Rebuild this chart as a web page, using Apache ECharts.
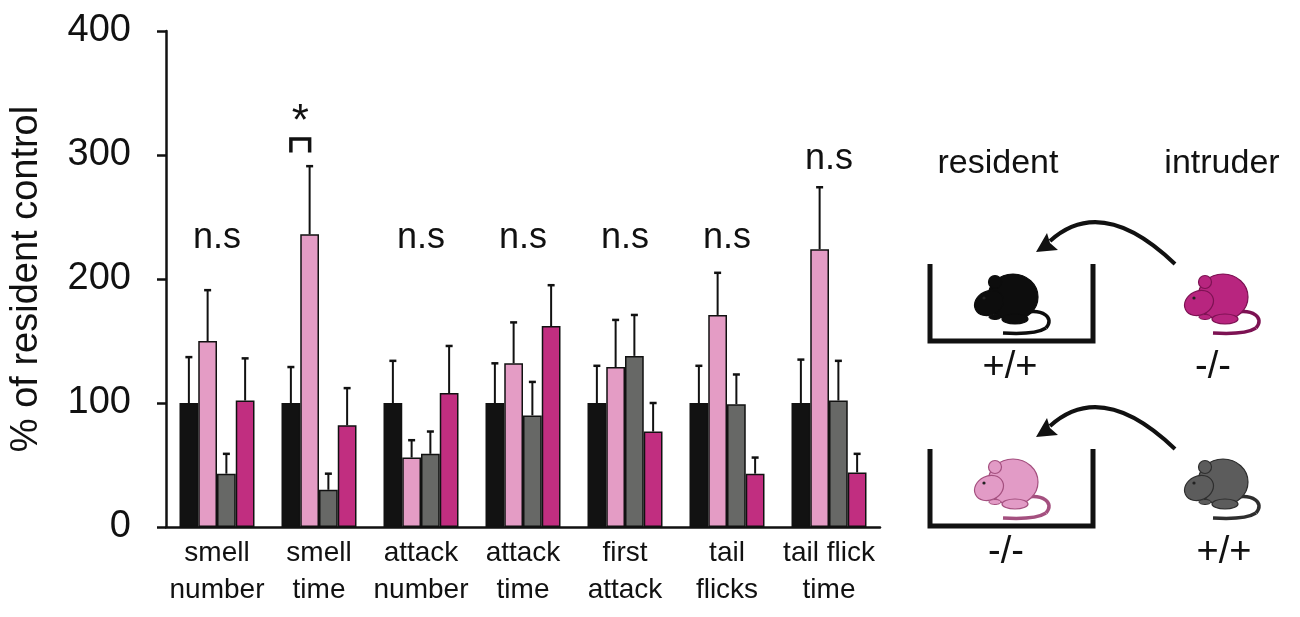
<!DOCTYPE html>
<html>
<head>
<meta charset="utf-8">
<script src="https://cdn.jsdelivr.net/npm/echarts@6/dist/echarts.min.js"></script>
<style>
  html, body { margin: 0; padding: 0; background: #fff; }
  #chart { width: 1300px; height: 617px; }
</style>
</head>
<body>
<div id="chart"></div>
<script>
const categories = ['smell\nnumber', 'smell\ntime', 'attack\nnumber', 'attack\ntime', 'first\nattack', 'tail\nflicks', 'tail flick\ntime'];

// mean % of resident control, and upper SEM
const wtVsWt = [100, 100, 100, 100, 100, 100, 100];
const wtVsWtErr = [37, 29, 34, 32, 30, 30, 35];
const koVsWt = [150, 236, 56, 132, 129, 171, 224];
const koVsWtErr = [41, 55, 14, 33, 38, 34, 50];
const wtIntruder = [43, 30, 59, 90, 138, 99, 102];
const wtIntruderErr = [16, 13, 18, 27, 33, 24, 32];
const koIntruder = [102, 82, 108, 162, 77, 43, 44];
const koIntruderErr = [34, 30, 38, 33, 23, 13, 15];

// significance annotations
const nsGroups = [0, 2, 3, 4, 5, 6];
const nsLevels = [233, 233, 233, 233, 233, 297];
const starGroup = 1;
const starLevels = [302, 313, 326]; // bracket leg, bracket top, star

const FONT = 'Liberation Sans, Arial, sans-serif';
const BAR_W = 18.75;
const colors = ['#121212', '#e49cc5', '#676866', '#c12e80'];

const chart = echarts.init(document.getElementById('chart'));

function errorSeries(means, errs, idx) {
  return {
    type: 'custom',
    z: 1,
    silent: true,
    data: means.map((m, i) => [i, m, m + errs[i]]),
    renderItem: function (params, api) {
      const lo = api.coord([api.value(0), api.value(1)]);
      const hi = api.coord([api.value(0), api.value(2)]);
      const x = lo[0] + (idx - 1.5) * BAR_W;
      return {
        type: 'group',
        children: [
          { type: 'line', shape: { x1: x, y1: lo[1], x2: x, y2: hi[1] }, style: { stroke: '#111', lineWidth: 2 } },
          { type: 'line', shape: { x1: x - 3.5, y1: hi[1], x2: x + 3.5, y2: hi[1] }, style: { stroke: '#111', lineWidth: 2.5 } }
        ]
      };
    }
  };
}

function barSeries(name, values, color) {
  return {
    name: name,
    type: 'bar',
    z: 2,
    barWidth: BAR_W,
    barGap: '0%',
    data: values,
    itemStyle: { color: color, borderColor: '#111', borderWidth: 1.5 }
  };
}

function mouse(x, y, fill, stroke) {
  return {
    type: 'group', x: x, y: y, children: [
      { type: 'bezierCurve', shape: { x1: 14, y1: 9, cpx1: 34, cpy1: 4, cpx2: 46, cpy2: 14, x2: 37, y2: 24 }, style: { fill: null, stroke: stroke, lineWidth: 3.5 } },
      { type: 'bezierCurve', shape: { x1: 37, y1: 24, cpx1: 26, cpy1: 31, x2: -6, y2: 29 }, style: { fill: null, stroke: stroke, lineWidth: 3.5 } },
      { type: 'ellipse', shape: { cx: 4, cy: -7, rx: 25, ry: 23 }, style: { fill: fill, stroke: stroke, lineWidth: 1.2 } },
      { type: 'ellipse', shape: { cx: 6, cy: 15, rx: 13, ry: 5 }, style: { fill: fill, stroke: stroke, lineWidth: 1.2 } },
      { type: 'ellipse', shape: { cx: 0, cy: 0, rx: 15, ry: 12 }, x: -20, y: -1, rotation: 0.45, style: { fill: fill, stroke: stroke, lineWidth: 1.2 } },
      { type: 'circle', shape: { cx: -14, cy: -22, r: 6.5 }, style: { fill: fill, stroke: stroke, lineWidth: 1.2 } },
      { type: 'ellipse', shape: { cx: -14, cy: 13, rx: 6, ry: 2.5 }, style: { fill: fill, stroke: stroke, lineWidth: 1 } },
      { type: 'circle', shape: { cx: -25, cy: -6, r: 1.6 }, style: { fill: '#222' } }
    ]
  };
}

function arrow(dy) {
  return {
    type: 'group', y: dy, children: [
      { type: 'bezierCurve', shape: { x1: 1175, y1: 264, cpx1: 1102, cpy1: 194, x2: 1050, y2: 241 }, style: { fill: null, stroke: '#111', lineWidth: 4 } },
      { type: 'polygon', shape: { points: [[1036, 252], [1047, 233], [1050, 243], [1058, 250]] }, style: { fill: '#111' } }
    ]
  };
}

function cage(dy) {
  return {
    type: 'polyline', y: dy,
    shape: { points: [[930, 264], [930, 341], [1093, 341], [1093, 264]] },
    style: { fill: null, stroke: '#111', lineWidth: 5 }
  };
}

function label(text, x, y, size) {
  return {
    type: 'text', x: x, y: y,
    style: { text: text, font: size + 'px ' + FONT, fill: '#111', textAlign: 'center', textVerticalAlign: 'middle' }
  };
}

const option = {
  animation: false,
  backgroundColor: '#fff',
  textStyle: { fontFamily: FONT },
  grid: { left: 166, right: 420, top: 31, bottom: 90, containLabel: false, outerBoundsMode: 'none' },
  xAxis: {
    type: 'category',
    data: categories,
    axisLine: { lineStyle: { color: '#111', width: 2.5 } },
    axisTick: { length: 3, lineStyle: { color: '#111', width: 1.5 } },
    axisLabel: { color: '#111', fontSize: 28, lineHeight: 37, margin: 8, interval: 0, fontFamily: FONT }
  },
  yAxis: {
    type: 'value',
    min: 0,
    max: 400,
    interval: 100,
    name: '% of resident control',
    nameLocation: 'middle',
    nameRotate: 90,
    nameGap: 120,
    nameTextStyle: { color: '#111', fontSize: 38, fontFamily: FONT },
    axisLine: { show: true, lineStyle: { color: '#111', width: 2.5 } },
    axisTick: { show: true, length: 9, lineStyle: { color: '#111', width: 2.5 } },
    axisLabel: { color: '#111', fontSize: 38, margin: 35, padding: [10, 0, 0, 0], fontFamily: FONT },
    splitLine: { show: false }
  },
  series: [
    barSeries('+/+ resident, +/+ intruder', wtVsWt, colors[0]),
    barSeries('-/- resident, +/+ intruder', koVsWt, colors[1]),
    barSeries('+/+ intruder', wtIntruder, colors[2]),
    barSeries('-/- intruder', koIntruder, colors[3]),
    errorSeries(wtVsWt, wtVsWtErr, 0),
    errorSeries(koVsWt, koVsWtErr, 1),
    errorSeries(wtIntruder, wtIntruderErr, 2),
    errorSeries(koIntruder, koIntruderErr, 3),
    {
      type: 'custom',
      silent: true,
      data: nsGroups.map((g, i) => [g, nsLevels[i]]),
      renderItem: function (params, api) {
        const p = api.coord([api.value(0), api.value(1)]);
        return {
          type: 'text', x: p[0], y: p[1],
          style: { text: 'n.s', font: '36px ' + FONT, fill: '#111', textAlign: 'center', textVerticalAlign: 'middle' }
        };
      }
    },
    {
      type: 'custom',
      silent: true,
      data: [[starGroup].concat(starLevels)],
      renderItem: function (params, api) {
        const c = api.value(0);
        const leg = api.coord([c, api.value(1)]);
        const top = api.coord([c, api.value(2)]);
        const star = api.coord([c, api.value(3)]);
        const x0 = leg[0] - 1.5 * BAR_W;
        const x1 = leg[0] - 0.5 * BAR_W;
        return {
          type: 'group',
          children: [
            { type: 'polyline', shape: { points: [[x0, leg[1]], [x0, top[1]], [x1, top[1]], [x1, leg[1]]] }, style: { fill: null, stroke: '#111', lineWidth: 3.5 } },
            { type: 'text', x: (x0 + x1) / 2, y: star[1], style: { text: '*', font: '44px ' + FONT, fill: '#111', textAlign: 'center', textVerticalAlign: 'middle' } }
          ]
        };
      }
    }
  ],
  graphic: [
    label('resident', 998, 164, 34),
    label('intruder', 1222, 164, 34),
    arrow(0),
    arrow(185),
    cage(0),
    cage(185),
    mouse(1009, 304, '#0d0d0d', '#0d0d0d'),
    mouse(1219, 304, '#b8257f', '#7d1253'),
    mouse(1009, 489, '#e29bc6', '#a4507f'),
    mouse(1219, 489, '#5c5c5c', '#2e2e2e'),
    label('+/+', 1010, 368, 38),
    label('-/-', 1213, 368, 38),
    label('-/-', 1006, 553, 38),
    label('+/+', 1224, 553, 38)
  ]
};

chart.setOption(option);
</script>
</body>
</html>
